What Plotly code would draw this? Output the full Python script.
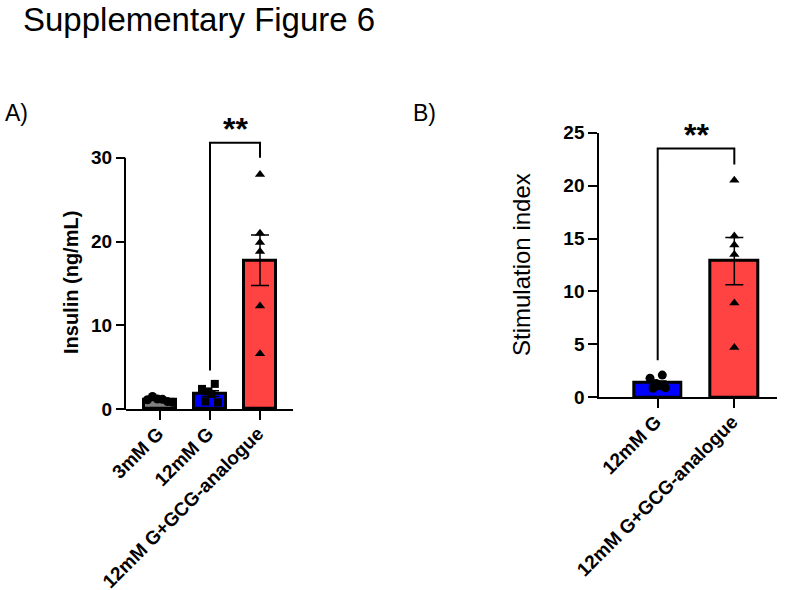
import numpy as np
import plotly.graph_objects as go

# ---------------- data ----------------
categories_A = ["3mM G", "12mM G", "12mM G+GCG-analogue"]
insulin_3mM_G = [1.1, 1.5, 1.2, 1.15, 0.9, 0.8]
insulin_12mM_G = [2.4, 0.9, 2.1, 1.8, 3.0, 0.8]
insulin_12mM_G_GCG = [28.0, 21.0, 19.9, 18.8, 12.3, 6.6]
yticks_A = [0, 10, 20, 30]

categories_B = ["12mM G", "12mM G+GCG-analogue"]
si_12mM_G = [1.8, 0.85, 1.3, 1.1, 2.1, 0.9]
si_12mM_G_GCG = [20.5, 15.25, 14.4, 13.5, 8.9, 4.7]
yticks_B = [0, 5, 10, 15, 20, 25]

# significance brackets: [group a, group b], leg bottoms and top, label
sig_A_groups = [1, 2]
sig_A_levels = [4.6, 31.8, 30.0]
sig_B_groups = [0, 1]
sig_B_levels = [3.5, 23.5, 22.0]
sig_label = "**"

# ---------------- style / layout ----------------
W, H = 787, 590
FONT = "Liberation Sans"


def xp(px):
    return px / W


def yp(py):
    return 1 - py / H


A_dom_x = [xp(126), xp(293)]
A_dom_y = [yp(409), yp(132.7)]
A_range_y = [0, 33]
A_range_x = [-0.68, 2.66]

B_dom_x = [xp(599.3), xp(777)]
B_dom_y = [yp(397.3), yp(132.7)]
B_range_y = [0, 25]
B_range_x = [-0.762, 1.557]

fig = go.Figure()


def add_group(i, vals, color, symbol, msize, spread, xa, ya, bw):
    v = np.array(vals, dtype=float)
    mean = v.mean()
    sem = v.std(ddof=1) / np.sqrt(len(v))
    fig.add_trace(go.Bar(
        x=[i], y=[mean], width=bw, xaxis=xa, yaxis=ya,
        marker=dict(color=color, line=dict(color="black", width=3)),
        error_y=dict(type="data", array=[sem], color="black", thickness=1.5, width=9),
        showlegend=False, hoverinfo="skip"))
    offs = np.linspace(-spread, spread, len(v)) if spread > 0 else np.zeros(len(v))
    fig.add_trace(go.Scatter(
        x=i + offs, y=v, mode="markers", xaxis=xa, yaxis=ya,
        marker=dict(symbol=symbol, size=msize, color="black"),
        showlegend=False, hoverinfo="skip"))


GRAY, BLUE, RED = "#808080", "#0000FF", "#FF4242"

# Panel A
add_group(0, insulin_3mM_G, GRAY, "circle", 9, 0.25, "x", "y", 0.64)
add_group(1, insulin_12mM_G, BLUE, "square", 8, 0.16, "x", "y", 0.64)
add_group(2, insulin_12mM_G_GCG, RED, "triangle-up", 9, 0, "x", "y", 0.64)

# Panel B
add_group(0, si_12mM_G, BLUE, "circle", 9, 0.1, "x2", "y2", 0.62)
add_group(1, si_12mM_G_GCG, RED, "triangle-up", 9, 0, "x2", "y2", 0.62)


def add_bracket(groups, levels, xa, ya):
    fig.add_trace(go.Scatter(
        x=[groups[0], groups[0], groups[1], groups[1]],
        y=[levels[0], levels[1], levels[1], levels[2]],
        mode="lines", line=dict(color="black", width=2),
        xaxis=xa, yaxis=ya, showlegend=False, hoverinfo="skip"))
    fig.add_annotation(x=(groups[0] + groups[1]) / 2, y=levels[1], xref=xa, yref=ya,
                       text=sig_label, showarrow=False, yanchor="bottom", yshift=-6,
                       font=dict(family=FONT, size=32, color="black", weight="bold"))


add_bracket(sig_A_groups, sig_A_levels, "x", "y")
add_bracket(sig_B_groups, sig_B_levels, "x2", "y2")

tickfont = dict(family=FONT, size=19, color="black", weight="bold")
common_x = dict(showline=True, linewidth=2, linecolor="black", ticks="outside",
                ticklen=9, tickwidth=2, tickcolor="black", tickangle=-45,
                ticklabelstandoff=-5, ticklabelshift=-2,
                showgrid=False, zeroline=False, tickfont=tickfont, automargin=False)
common_y = dict(ticks="outside", ticklen=9, tickwidth=2, tickcolor="black",
                showgrid=False, zeroline=False, tickfont=tickfont, automargin=False)

fig.update_layout(
    template="none",
    width=W, height=H, margin=dict(l=0, r=0, t=0, b=0, autoexpand=False),
    paper_bgcolor="white", plot_bgcolor="white", bargap=0,
    xaxis=dict(domain=A_dom_x, range=A_range_x, tickvals=list(range(len(categories_A))),
               ticktext=categories_A, anchor="y", **common_x),
    yaxis=dict(domain=A_dom_y, range=A_range_y, tickvals=yticks_A, showline=False,
               anchor="x", **common_y),
    xaxis2=dict(domain=B_dom_x, range=B_range_x, tickvals=list(range(len(categories_B))),
                ticktext=categories_B, anchor="y2", **common_x),
    yaxis2=dict(domain=B_dom_y, range=B_range_y, tickvals=yticks_B, showline=True,
                linewidth=2, linecolor="black", anchor="x2", **common_y),
)

# Panel A y-axis line (only up to the top tick, like the original)
top_frac = A_dom_y[0] + (yticks_A[-1] - A_range_y[0]) / (A_range_y[1] - A_range_y[0]) * (A_dom_y[1] - A_dom_y[0])
fig.add_shape(type="line", xref="paper", yref="paper",
              x0=A_dom_x[0] - 1 / W, x1=A_dom_x[0] - 1 / W,
              y0=A_dom_y[0] - 1 / H, y1=top_frac,
              line=dict(color="black", width=2))

# texts
fig.add_annotation(x=xp(22), y=yp(19.5), xref="paper", yref="paper", xanchor="left", yanchor="middle",
                   text="Supplementary Figure 6", showarrow=False, borderpad=0,
                   font=dict(family=FONT, size=33, color="black"))
fig.add_annotation(x=xp(3), y=yp(113), xref="paper", yref="paper", xanchor="left", yanchor="middle",
                   text="A)", showarrow=False, font=dict(family=FONT, size=23, color="black"))
fig.add_annotation(x=xp(411), y=yp(113), xref="paper", yref="paper", xanchor="left", yanchor="middle",
                   text="B)", showarrow=False, font=dict(family=FONT, size=23, color="black"))
fig.add_annotation(x=xp(71), y=yp(283), xref="paper", yref="paper", xanchor="center", yanchor="middle",
                   text="Insulin (ng/mL)", textangle=-90, showarrow=False,
                   font=dict(family=FONT, size=20, color="black", weight="bold"))
fig.add_annotation(x=xp(521), y=yp(265), xref="paper", yref="paper", xanchor="center", yanchor="middle",
                   text="Stimulation index", textangle=-90, showarrow=False,
                   font=dict(family=FONT, size=24, color="black"))

fig.write_html("out.html", config={"displayModeBar": False},
               post_script="document.body.style.margin='0';document.body.style.overflow='hidden';")
